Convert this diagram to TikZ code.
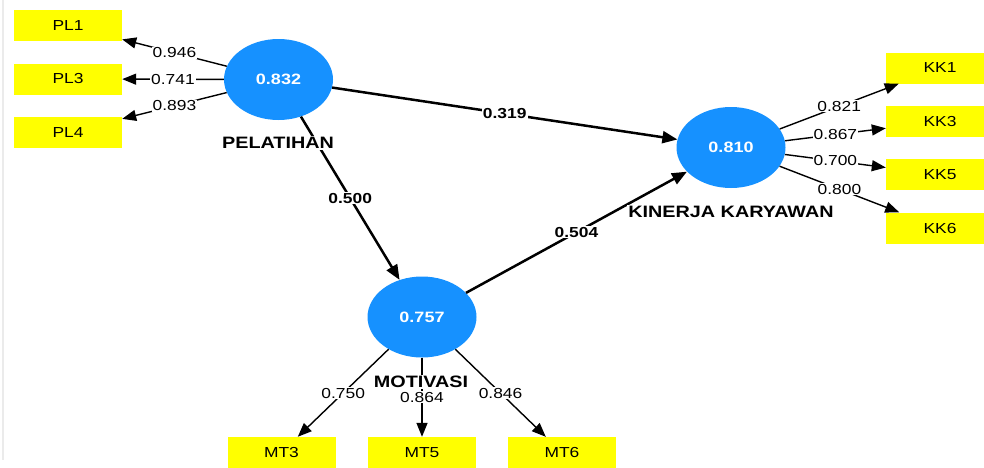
\documentclass[tikz,border=0pt]{standalone}
\usepackage{fontspec}
\setmainfont{Liberation Sans}[FakeStretch=1.2]
\usepackage{tikz}
\usetikzlibrary{arrows.meta,shapes,positioning}
\definecolor{lvblue}{RGB}{22,145,255}
\definecolor{mvyellow}{RGB}{255,255,0}

\begin{document}
\begin{tikzpicture}[x=1pt,y=-1pt]
            \tikzstyle{every node}+=[inner sep=0pt]
            \tikzstyle{latent}=[ellipse,fill=lvblue,minimum width=109pt,minimum height=81pt,text=white,font=\fontsize{15}{15}\bfseries]
            \tikzstyle{indicator}=[rectangle,fill=mvyellow,minimum width=108pt,minimum height=31pt,font=\fontsize{14.5}{14.5}\selectfont]
            \tikzstyle{loading}=[draw=black,line width=1.4pt,-{Triangle[length=14pt,width=11pt]}]
            \tikzstyle{path}=[draw=black,line width=2.5pt,-{Triangle[length=15pt,width=12pt]}]
            \tikzstyle{lval}=[fill=white,inner sep=1pt,font=\fontsize{14.5}{14.5}\selectfont]
            \tikzstyle{pval}=[fill=white,inner sep=1pt,font=\fontsize{14.5}{14.5}\bfseries]
            \tikzstyle{cname}=[fill=white,inner sep=1pt,font=\fontsize{16.5}{16.5}\bfseries]
            \useasboundingbox (0,0) rectangle (984,467);
            \draw [black!8,line width=1.5pt] (3,0) -- (3,460);
            % latent variables
            \node [latent] (pel) at (278.5,79.5) {0.832};
            \node [latent] (kin) at (731,147.5) {0.810};
            \node [latent] (mot) at (422,317) {0.757};
            % indicators
            \node [indicator] (pl1) at (68,25.5) {PL1};
            \node [indicator] (pl3) at (68,79) {PL3};
            \node [indicator] (pl4) at (68,132.5) {PL4};
            \node [indicator] (kk1) at (940,68) {KK1};
            \node [indicator] (kk3) at (940,121.5) {KK3};
            \node [indicator] (kk5) at (940,174.5) {KK5};
            \node [indicator] (kk6) at (940,228) {KK6};
            \node [indicator] (mt3) at (281.5,452.5) {MT3};
            \node [indicator] (mt5) at (422,452.5) {MT5};
            \node [indicator] (mt6) at (562,452.5) {MT6};
            % outer loadings
            \draw [loading] (pel) -- node [lval] {0.946} (pl1);
            \draw [loading] (pel) -- node [lval] {0.741} (pl3);
            \draw [loading] (pel) -- node [lval] {0.893} (pl4);
            \draw [loading] (kin) -- node [lval] {0.821} (kk1);
            \draw [loading] (kin) -- node [lval] {0.867} (kk3);
            \draw [loading] (kin) -- node [lval] {0.700} (kk5);
            \draw [loading] (kin) -- node [lval] {0.800} (kk6);
            \draw [loading] (mot) -- node [lval] {0.750} (mt3);
            \draw [loading] (mot) -- node [lval] {0.864} (mt5);
            \draw [loading] (mot) -- node [lval] {0.846} (mt6);
            % path coefficients
            \draw [path] (pel) -- node [pval] {0.319} (kin);
            \draw [path] (pel) -- node [pval] {0.500} (mot);
            \draw [path] (mot) -- node [pval] {0.504} (kin);
            % construct names
            \node [cname] (pelname) at (278,143) {PELATIHAN};
            \node [cname] (kinname) at (731,212) {KINERJA KARYAWAN};
            \node [cname] (motname) at (421,382) {MOTIVASI};
            \end{tikzpicture}
\end{document}
